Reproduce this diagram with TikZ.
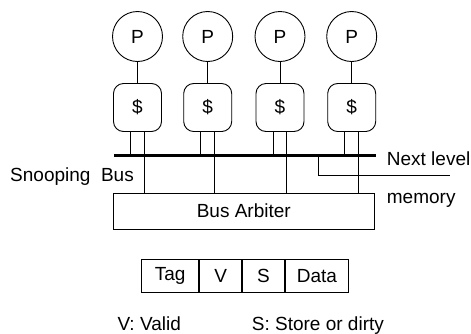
\documentclass[tikz,border=0pt]{standalone}
\usepackage{fontspec}
\setmainfont{Liberation Sans}
\begin{document}
\begin{tikzpicture}[x=1pt,y=-1pt,
  every node/.style={font=\fontsize{19}{23}\selectfont, inner sep=0pt},
  proc/.style={draw, circle, minimum size=50pt, line width=0.9pt},
  cachebox/.style={draw, rounded corners=10pt, minimum width=48pt, minimum height=48pt, line width=0.9pt},
  thin/.style={line width=0.9pt},
  busline/.style={line width=2.6pt},
  cell/.style={draw, minimum height=33pt, line width=0.9pt},
  lbl/.style={anchor=base west}]
\useasboundingbox (0,0) rectangle (471,333);
% processors
\foreach \i/\x in {1/137.5,2/207.7,3/280,4/351.7}{
  \node[proc] (p\i) at (\x,36.5) {P};
  \node[cachebox] (s\i) at (\x,107.5) {\$};
  \draw[thin] (p\i.south) -- (s\i.north);
}
% bus
\coordinate (busL) at (114,155.3);
\coordinate (busR) at (376,155.3);
\draw[busline] (busL) -- (busR);
% arbiter
\node[draw, thin, minimum width=261pt, minimum height=35.7pt] (arb) at (243.8,211.2) {Bus Arbiter};
% connections
\foreach \i in {1,...,4}{
  \draw[thin] ([xshift=-7pt]s\i.south) -- ([xshift=-7pt]s\i.south |- busL);
  \draw[thin] ([xshift=6.5pt]s\i.south) -- ([xshift=6.5pt]s\i.south |- arb.north);
}
% next level memory
\coordinate (nl1) at (318,155.3);
\coordinate (nl2) at (450,175.5);
\draw[thin] (nl1) |- (nl2);
\node[lbl] (nextlevel) at (386.7,165) {Next level};
\node[lbl] (memory) at (386.7,203.3) {memory};
\node[lbl] (snoop) at (10,181) {Snooping\ \ Bus};
% table
\node[cell, minimum width=57pt] (tag) at (170.2,275.8) {Tag};
\node[cell, minimum width=42pt, anchor=west] (v) at (tag.east) {V};
\node[cell, minimum width=42pt, anchor=west] (s) at (v.east) {S};
\node[cell, minimum width=63pt, anchor=west] (data) at (s.east) {Data};
\node[lbl] (vvalid) at (117.3,330.5) {V: Valid};
\node[lbl] (sstore) at (251.7,330.5) {S: Store or dirty};
\end{tikzpicture}
\end{document}
